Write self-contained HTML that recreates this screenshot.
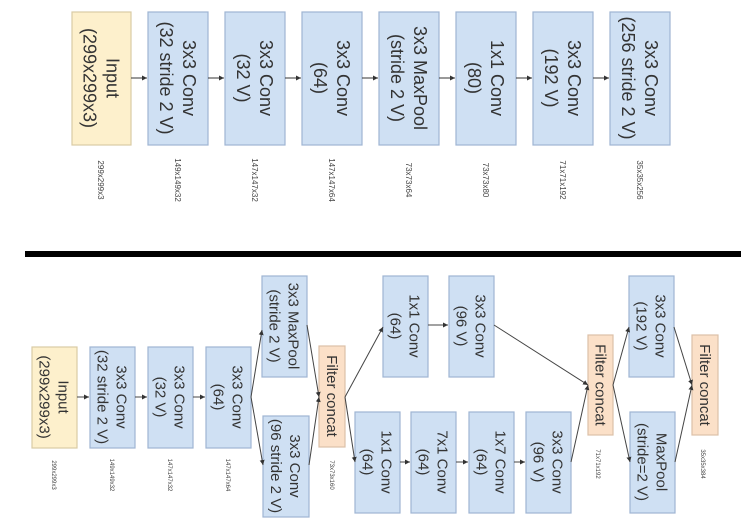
<!DOCTYPE html>
<html><head><meta charset="utf-8"><style>
html,body{margin:0;padding:0;background:#fff;}
svg{display:block;font-family:"Liberation Sans",sans-serif;}
</style></head><body>
<svg width="741" height="529" viewBox="0 0 741 529" xmlns="http://www.w3.org/2000/svg">
<defs><marker id="a" markerWidth="6" markerHeight="6" refX="5" refY="3" orient="auto"><path d="M0,0.5 L5,3 L0,5.5z" fill="#333"/></marker></defs>
<g stroke="#9fb5d3" stroke-width="1.2" fill="#cfe0f3">
<rect x="72" y="12" width="59" height="133" fill="#fdf0cc" stroke="#d9cba5"/>
<rect x="148" y="12" width="60" height="133"/>
<rect x="225" y="12" width="60" height="133"/>
<rect x="302" y="12" width="60" height="133"/>
<rect x="379" y="12" width="60" height="133"/>
<rect x="456" y="12" width="60" height="133"/>
<rect x="533" y="12" width="60" height="133"/>
<rect x="610" y="12" width="60" height="133"/>
</g>
<g stroke="#333" stroke-width="1" marker-end="url(#a)">
<line x1="131" y1="78" x2="147" y2="78"/><line x1="208" y1="78" x2="224" y2="78"/>
<line x1="285" y1="78" x2="301" y2="78"/><line x1="362" y1="78" x2="378" y2="78"/>
<line x1="439" y1="78" x2="455" y2="78"/><line x1="516" y1="78" x2="532" y2="78"/>
<line x1="593" y1="78" x2="609" y2="78"/>
</g>
<g font-size="18" fill="#333" text-anchor="middle">
<text transform="translate(101.5,78) rotate(90)"><tspan x="0" y="-5">Input</tspan><tspan x="0" y="18">(299x299x3)</tspan></text>
<text transform="translate(178,78) rotate(90)"><tspan x="0" y="-5">3x3 Conv</tspan><tspan x="0" y="18">(32 stride 2 V)</tspan></text>
<text transform="translate(255,78) rotate(90)"><tspan x="0" y="-5">3x3 Conv</tspan><tspan x="0" y="18">(32 V)</tspan></text>
<text transform="translate(332,78) rotate(90)"><tspan x="0" y="-5">3x3 Conv</tspan><tspan x="0" y="18">(64)</tspan></text>
<text transform="translate(409,78) rotate(90)"><tspan x="0" y="-5">3x3 MaxPool</tspan><tspan x="0" y="18">(stride 2 V)</tspan></text>
<text transform="translate(486,78) rotate(90)"><tspan x="0" y="-5">1x1 Conv</tspan><tspan x="0" y="18">(80)</tspan></text>
<text transform="translate(563,78) rotate(90)"><tspan x="0" y="-5">3x3 Conv</tspan><tspan x="0" y="18">(192 V)</tspan></text>
<text transform="translate(640,78) rotate(90)"><tspan x="0" y="-5">3x3 Conv</tspan><tspan x="0" y="18">(256 stride 2 V)</tspan></text>
</g>
<g font-size="8" fill="#444" text-anchor="middle">
<text transform="translate(101,180) rotate(90)" y="3">299x299x3</text>
<text transform="translate(178,180) rotate(90)" y="3">149x149x32</text>
<text transform="translate(255,180) rotate(90)" y="3">147x147x32</text>
<text transform="translate(332,180) rotate(90)" y="3">147x147x64</text>
<text transform="translate(409,180) rotate(90)" y="3">73x73x64</text>
<text transform="translate(486,180) rotate(90)" y="3">73x73x80</text>
<text transform="translate(563,180) rotate(90)" y="3">71x71x192</text>
<text transform="translate(640,180) rotate(90)" y="3">35x35x256</text>
</g>
<rect x="25" y="251" width="716" height="6" fill="#000"/>
<g stroke="#9fb5d3" stroke-width="1.2" fill="#cfe0f3">
<rect x="32" y="347" width="45" height="101" fill="#fdf0cc" stroke="#d9cba5"/>
<rect x="90" y="347" width="45" height="101"/>
<rect x="148" y="347" width="45" height="101"/>
<rect x="206" y="347" width="45" height="101"/>
<rect x="262" y="276" width="45" height="101"/>
<rect x="263" y="416" width="46" height="101"/>
<rect x="319" y="346" width="26" height="101" fill="#fbe0c8" stroke="#dcc0a8"/>
<rect x="383" y="276" width="45" height="101"/>
<rect x="449" y="276" width="45" height="101"/>
<rect x="355" y="412" width="45" height="101"/>
<rect x="411" y="412" width="45" height="101"/>
<rect x="469" y="412" width="45" height="101"/>
<rect x="526" y="412" width="45" height="101"/>
<rect x="588" y="335" width="25" height="100" fill="#fbe0c8" stroke="#dcc0a8"/>
<rect x="629" y="276" width="45" height="101"/>
<rect x="630" y="412" width="45" height="101"/>
<rect x="692" y="335" width="26" height="100" fill="#fbe0c8" stroke="#dcc0a8"/>
</g>
<g stroke="#444" stroke-width="1" marker-end="url(#a)" fill="none">
<line x1="77" y1="397" x2="89" y2="397"/><line x1="135" y1="397" x2="147" y2="397"/>
<line x1="193" y1="397" x2="205" y2="397"/>
<line x1="251" y1="397" x2="262" y2="330"/><line x1="251" y1="397" x2="263" y2="465"/>
<line x1="307" y1="325" x2="319" y2="397"/><line x1="309" y1="465" x2="319" y2="397"/>
<line x1="345" y1="397" x2="383" y2="327"/><line x1="345" y1="397" x2="355" y2="462"/>
<line x1="428" y1="325" x2="448" y2="325"/>
<line x1="494" y1="325" x2="588" y2="385"/>
<line x1="400" y1="462" x2="410" y2="462"/><line x1="456" y1="462" x2="468" y2="462"/>
<line x1="514" y1="462" x2="525" y2="462"/>
<line x1="571" y1="462" x2="588" y2="385"/>
<line x1="613" y1="385" x2="629" y2="327"/><line x1="613" y1="385" x2="630" y2="462"/>
<line x1="674" y1="327" x2="692" y2="385"/><line x1="675" y1="462" x2="692" y2="385"/>
</g>
<g font-size="15" fill="#333" text-anchor="middle">
<text transform="translate(54.5,397) rotate(90)"><tspan x="0" y="-4">Input</tspan><tspan x="0" y="15">(299x299x3)</tspan></text>
<text transform="translate(112.5,397) rotate(90)"><tspan x="0" y="-4">3x3 Conv</tspan><tspan x="0" y="15">(32 stride 2 V)</tspan></text>
<text transform="translate(170.5,397) rotate(90)"><tspan x="0" y="-4">3x3 Conv</tspan><tspan x="0" y="15">(32 V)</tspan></text>
<text transform="translate(228.5,397) rotate(90)"><tspan x="0" y="-4">3x3 Conv</tspan><tspan x="0" y="15">(64)</tspan></text>
<text transform="translate(284.5,326) rotate(90)"><tspan x="0" y="-4">3x3 MaxPool</tspan><tspan x="0" y="15">(stride 2 V)</tspan></text>
<text transform="translate(286,466) rotate(90)"><tspan x="0" y="-4">3x3 Conv</tspan><tspan x="0" y="15">(96 stride 2 V)</tspan></text>
<text transform="translate(332,396) rotate(90)" y="5">Filter concat</text>
<text transform="translate(405.5,326) rotate(90)"><tspan x="0" y="-4">1x1 Conv</tspan><tspan x="0" y="15">(64)</tspan></text>
<text transform="translate(471.5,326) rotate(90)"><tspan x="0" y="-4">3x3 Conv</tspan><tspan x="0" y="15">(96 V)</tspan></text>
<text transform="translate(377.5,462) rotate(90)"><tspan x="0" y="-4">1x1 Conv</tspan><tspan x="0" y="15">(64)</tspan></text>
<text transform="translate(433.5,462) rotate(90)"><tspan x="0" y="-4">7x1 Conv</tspan><tspan x="0" y="15">(64)</tspan></text>
<text transform="translate(491.5,462) rotate(90)"><tspan x="0" y="-4">1x7 Conv</tspan><tspan x="0" y="15">(64)</tspan></text>
<text transform="translate(548.5,462) rotate(90)"><tspan x="0" y="-4">3x3 Conv</tspan><tspan x="0" y="15">(96 V)</tspan></text>
<text transform="translate(600.5,385) rotate(90)" y="5">Filter concat</text>
<text transform="translate(651.5,326) rotate(90)"><tspan x="0" y="-4">3x3 Conv</tspan><tspan x="0" y="15">(192 V)</tspan></text>
<text transform="translate(652.5,462) rotate(90)"><tspan x="0" y="-4">MaxPool</tspan><tspan x="0" y="15">(stride=2 V)</tspan></text>
<text transform="translate(705,385) rotate(90)" y="5">Filter concat</text>
</g>
<g font-size="6" fill="#444" text-anchor="middle">
<text transform="translate(54,475) rotate(90)" y="2">299x299x3</text>
<text transform="translate(112,475) rotate(90)" y="2">149x149x32</text>
<text transform="translate(170,475) rotate(90)" y="2">147x147x32</text>
<text transform="translate(228,475) rotate(90)" y="2">147x147x64</text>
<text transform="translate(332,475) rotate(90)" y="2">73x73x160</text>
<text transform="translate(598,464) rotate(90)" y="2">71x71x192</text>
<text transform="translate(703,464) rotate(90)" y="2">35x35x384</text>
</g>
</svg>
</body></html>
